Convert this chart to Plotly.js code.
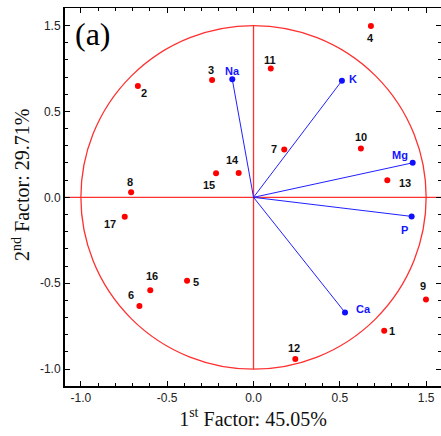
<!DOCTYPE html>
<html><head><meta charset="utf-8">
<script src="https://cdn.plot.ly/plotly-3.0.1.min.js"></script>
<style>html,body{margin:0;padding:0;background:#fff}#plot{width:441px;height:436px}</style>
</head><body><div id="plot"></div>
<script>
// Sample scores (red points)
const sampleLabels = ["1","2","3","4","5","6","7","8","9","10","11","12","13","14","15","16","17"];
const sampleX = [0.757,-0.670,-0.240,0.680,-0.385,-0.661,0.178,-0.709,0.999,0.622,0.100,0.242,0.775,-0.086,-0.217,-0.598,-0.746];
const sampleY = [-0.776,0.648,0.683,0.997,-0.485,-0.633,0.279,0.029,-0.594,0.285,0.750,-0.941,0.100,0.141,0.140,-0.540,-0.113];
// Variable loadings (blue vectors)
const varLabels = ["Na","K","Mg","P","Ca"];
const varX = [-0.123,0.512,0.922,0.916,0.530];
const varY = [0.687,0.679,0.201,-0.111,-0.670];
// Tick labels (as printed in the reference)
const tickVals = [-1.0,-0.5,0.0,0.5,1.0];
const tickText = ["-1.0","-0.5","0.0","0.5","1.5"];

// label offsets in pixels (style)
const sampleDx = [8,6.5,-1,0,9,-8,-10,-1,-3,0,-1,-1,18,-6,-7,2,-15];
const sampleDy = [0,7,-10,11.5,1,-11,0,-10,-13.5,-11,-8,-11,3,-13,12,-14.5,7];
const varDx = [0,11,-13,-7,18];
const varDy = [-8,-2,-8,14,-3];

const xr = [-1.092, 1.086];
const yr = [-1.098, 1.102];

const vx = [], vy = [];
varX.forEach((x,i)=>{ vx.push(0, x, null); vy.push(0, varY[i], null); });

const traces = [
  {x: vx, y: vy, mode:'lines', line:{color:'#2020ff', width:1}, hoverinfo:'skip', showlegend:false},
  {x: varX, y: varY, mode:'markers', marker:{color:'#1010ff', size:6}, showlegend:false},
  {x: sampleX, y: sampleY, mode:'markers', marker:{color:'#ff0000', size:6}, showlegend:false},
  {x: [0], y: [0], xaxis:'x2', yaxis:'y2', mode:'markers', marker:{opacity:0}, showlegend:false, hoverinfo:'skip'}
];

const anns = [];
sampleLabels.forEach((t,i)=>anns.push({x:sampleX[i], y:sampleY[i], text:t, showarrow:false,
  xshift:sampleDx[i], yshift:-sampleDy[i], font:{family:'Liberation Sans, Arial', size:11, color:'#111', weight:'bold'}}));
varLabels.forEach((t,i)=>anns.push({x:varX[i], y:varY[i], text:t, showarrow:false,
  xshift:varDx[i], yshift:-varDy[i], font:{family:'Liberation Sans, Arial', size:11, color:'#1515ff', weight:'bold'}}));
anns.push({xref:'paper', yref:'paper', x:0.02, y:0.932, xanchor:'left', yanchor:'middle', text:'(a)', showarrow:false,
  font:{family:'Liberation Serif, Times New Roman', size:32, color:'#000'}});
anns.push({xref:'paper', yref:'paper', x:-0.117, y:0.532, xanchor:'center', yanchor:'middle', textangle:-90,
  text:'2<sup>nd</sup> Factor: 29.71%', showarrow:false,
  font:{family:'Liberation Serif, Times New Roman', size:20, color:'#111'}});

const axCommon = {
  showgrid:false, zeroline:false, showline:true, linecolor:'#000',
  ticks:'inside', ticklen:5, tickwidth:1, tickcolor:'#000',
  tickvals: tickVals, ticktext: tickText,
  tickfont:{family:'Liberation Sans, Arial', size:12, color:'#222'},
  minor:{dtick:0.1, tick0:0, ticks:'inside', ticklen:3, tickcolor:'#000', tickwidth:1},
  fixedrange:true
};

const layout = {
  width:441, height:436,
  margin:{l:65, r:0, t:8, b:50},
  paper_bgcolor:'#fff', plot_bgcolor:'#fff',
  xaxis: Object.assign({}, axCommon, {range:xr, linewidth:2,
    title:{text:'1<sup>st</sup> Factor: 45.05%', font:{family:'Liberation Serif, Times New Roman', size:20, color:'#111'}, standoff:3}}),
  yaxis: Object.assign({}, axCommon, {range:yr, linewidth:2}),
  xaxis2: Object.assign({}, axCommon, {range:xr, overlaying:'x', side:'top', linewidth:1, showticklabels:false, anchor:'y2'}),
  yaxis2: Object.assign({}, axCommon, {range:yr, overlaying:'y', side:'right', linewidth:1, showticklabels:false, anchor:'x2'}),
  shapes:[
    {type:'circle', xref:'x', yref:'y', x0:-1, y0:-1, x1:1, y1:1, line:{color:'#ff3030', width:1.3}, layer:'below'},
    {type:'line', xref:'x', yref:'y', x0:0, x1:0, y0:-1, y1:1, line:{color:'#ff3030', width:1.3}, layer:'below'},
    {type:'line', xref:'paper', yref:'y', x0:0, x1:1, y0:0, y1:0, line:{color:'#ff3030', width:1.3}, layer:'below'}
  ],
  annotations: anns
};

Plotly.newPlot('plot', traces, layout, {staticPlot:true});
</script></body></html>
